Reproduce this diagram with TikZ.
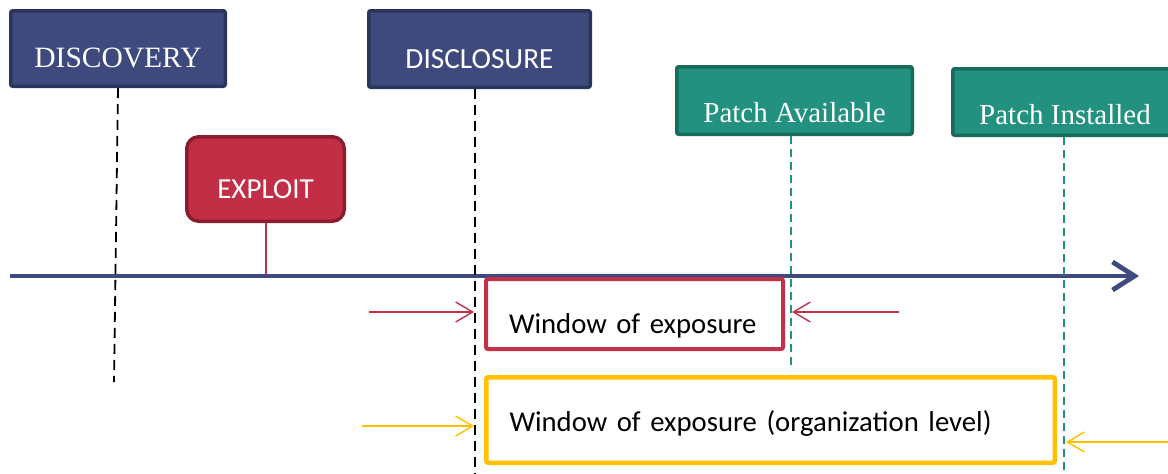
\documentclass[tikz,border=0pt]{standalone}
\usepackage{fontspec}
\setmainfont{Liberation Serif}
\newfontfamily\calfont{Carlito}
\usetikzlibrary{arrows.meta}

\definecolor{navyfill}{HTML}{3E4A7D}
\definecolor{navyedge}{HTML}{2B355C}
\definecolor{redfill}{HTML}{C12E46}
\definecolor{rededge}{HTML}{8B1C2D}
\definecolor{tealfill}{HTML}{22917F}
\definecolor{tealedge}{HTML}{186A5B}
\definecolor{winred}{HTML}{C3304A}
\definecolor{winyellow}{HTML}{FFC000}

\tikzset{
  eventbox/.style={draw, line width=3.5pt, rounded corners=2pt, inner sep=0pt,
    text=white, text depth=0pt},
  navybox/.style={eventbox, fill=navyfill, draw=navyedge},
  patchbox/.style={eventbox, fill=tealfill, draw=tealedge,
    font=\fontsize{29}{34}\selectfont},
  windowbox/.style={draw, line width=4pt, rounded corners=2pt, fill=white,
    inner ysep=0pt, inner xsep=23pt, align=left, text=black, text depth=0pt,
    font=\calfont\fontsize{28.7}{34}\selectfont},
  axisline/.style={draw=navyfill, line width=4.8pt,
    -{Straight Barb[length=22pt,width=28pt]}},
  milestone/.style={dashed, line width=1.8pt, dash pattern=on 10pt off 6pt},
  patchline/.style={draw=tealfill, line width=1.5pt, dash pattern=on 8pt off 5pt},
  pointer/.style={line width=1.4pt, -{Straight Barb[length=17pt,width=20pt]}}
}

\begin{document}
\begin{tikzpicture}[x=1pt,y=-1pt]
\useasboundingbox (0,0) rectangle (1168,474);
\clip (0,0) rectangle (1168,474);

% milestone boxes
\node[navybox, minimum width=214.5pt, minimum height=75.5pt, text height=37pt,
      font=\fontsize{29.5}{34}\selectfont] (discovery) at (118,48.5) {DISCOVERY};
\node[navybox, minimum width=221.5pt, minimum height=76.5pt, text height=38pt,
      font=\calfont\fontsize{29.3}{34}\selectfont] (disclosure) at (479.5,49) {DISCLOSURE};
\node[eventbox, fill=redfill, draw=rededge, rounded corners=12pt,
      minimum width=157.5pt, minimum height=84.5pt, text height=38pt,
      font=\calfont\fontsize{29}{34}\selectfont] (exploit) at (265.5,179) {EXPLOIT};
\node[patchbox, minimum width=235.5pt, minimum height=67.5pt, text height=43pt]
      (patchav) at (794.5,100.5) {Patch Available};
\node[patchbox, minimum width=224.5pt, minimum height=66.5pt, text height=44pt]
      (patchin) at (1065,102) {Patch Installed};

% time axis
\coordinate (axisstart) at (10,276);
\coordinate (axisend) at (1139,276);
\draw[axisline] (axisstart) -- (axisend);

% exploit marker on the axis
\coordinate (exploitmark) at (265.5,274);
\draw[winred, line width=2pt] (exploit.south) -- (exploitmark);

% exposure windows
\node[windowbox, draw=winred, minimum width=297pt, minimum height=70pt,
      text width=251pt, text height=38pt] (window) at (634.5,314) {Window of exposure};
\node[windowbox, draw=winyellow, line width=4.5pt, minimum width=568.5pt,
      minimum height=85.5pt, text width=522pt, text height=22pt]
      (orgwindow) at (770.5,420) {Window of exposure (organization level)};

% vertical milestone lines
\coordinate (discoveryend) at (114,382);
\coordinate (disclosuretop) at (475,89);
\coordinate (disclosureend) at (475,476);
\coordinate (patchavtop) at (791,136);
\coordinate (patchavend) at (791,370);
\coordinate (patchintop) at (1064,137);
\coordinate (patchinend) at (1064,476);
\draw[milestone] (discovery.south) -- (discoveryend);
\draw[milestone] (disclosuretop) -- (disclosureend);
\draw[patchline] (patchavtop) -- (patchavend);
\draw[patchline] (patchintop) -- (patchinend);

% pointers bounding the windows
\coordinate (redleftfrom) at (369,312);
\coordinate (redleftto) at (474,312);
\coordinate (redrightfrom) at (899,312);
\coordinate (redrightto) at (792,312);
\coordinate (yelleftfrom) at (362,426);
\coordinate (yelleftto) at (474,426);
\coordinate (yelrightfrom) at (1172,442);
\coordinate (yelrightto) at (1066,442);
\draw[pointer, winred] (redleftfrom) -- (redleftto);
\draw[pointer, winred] (redrightfrom) -- (redrightto);
\draw[pointer, winyellow] (yelleftfrom) -- (yelleftto);
\draw[pointer, winyellow] (yelrightfrom) -- (yelrightto);
\end{tikzpicture}
\end{document}
